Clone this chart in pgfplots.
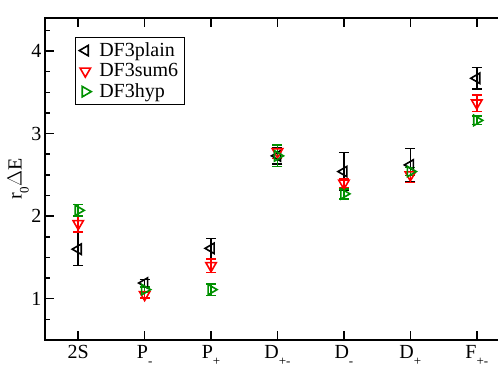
\documentclass[border=0pt]{standalone}
\usepackage{pgfplots}
\pgfplotsset{compat=1.18}
\usepackage{fontspec}
\setmainfont{Liberation Serif}
\definecolor{dgreen}{RGB}{0,145,0}
\newcommand{\sub}[1]{\raisebox{-7bp}{\fontsize{13bp}{13bp}\selectfont #1}}
\begin{document}
\begin{tikzpicture}
\useasboundingbox (-45bp,-45bp) rectangle (453bp,340bp);
\clip (-45bp,-45bp) rectangle (453bp,340bp);
\begin{axis}[
  at={(0,0)}, anchor=south west,
  scale only axis, width=465bp, height=322bp,
  xmin=-0.5, xmax=6.5, ymin=0.5, ymax=4.4,
  xtick={0,...,6},
  xticklabels={2S, P\sub{-}, P\sub{+}, D\sub{+-}, D\sub{-}, D\sub{+}, F\sub{+-}},
  ytick={1,2,3,4},
  minor ytick={0.75,1.25,1.5,1.75,2.25,2.5,2.75,3.25,3.5,3.75,4.25},
  tick align=inside,
  major tick length=9bp, minor tick length=5bp,
  every tick/.style={black, line width=1.5bp},
  axis line style={line width=1.5bp},
  tick label style={font=\fontsize{20bp}{24bp}\selectfont},
  /pgf/number format/assume math mode=true,
  xticklabel style={yshift=-2bp},
  ylabel={r\sub{0}$\Delta$E},
  ylabel style={font=\fontsize{20bp}{24bp}\selectfont, yshift=-4bp},
  legend style={at={(29.7bp,302.7bp)}, anchor=north west, draw=black, line width=1.2bp,
    font=\fontsize{20bp}{22bp}\selectfont, inner xsep=4bp, inner ysep=3bp, row sep=1.5bp,
    /tikz/every odd column/.append style={column sep=6bp}},
  legend cell align=left,
  error bars/error bar style={line width=1.5bp},
  error bars/error mark options={rotate=90, mark size=5bp, line width=1.5bp},
]
\addplot[black, only marks, mark=triangle, mark size=6bp, mark options={rotate=90, line width=1.6bp},
  error bars/.cd, y dir=both, y explicit] coordinates {
  (0,1.60) +- (0,0.20)
  (1,1.19) +- (0,0.04)
  (2,1.61) +- (0,0.12)
  (3,2.73) +- (0,0.10)
  (4,2.54) +- (0,0.23)
  (5,2.62) +- (0,0.20)
  (6,3.67) +- (0,0.13)
};
\addplot[red, only marks, mark=triangle, mark size=6bp, mark options={rotate=180, line width=1.6bp},
  error bars/.cd, y dir=both, y explicit] coordinates {
  (0,1.91) +- (0,0.10)
  (1,1.05) +- (0,0.04)
  (2,1.40) +- (0,0.08)
  (3,2.78) +- (0,0.08)
  (4,2.40) +- (0,0.05)
  (5,2.50) +- (0,0.09)
  (6,3.37) +- (0,0.10)
};
\addplot[dgreen, only marks, mark=triangle, mark size=6bp, mark options={rotate=-90, line width=1.6bp},
  error bars/.cd, y dir=both, y explicit] coordinates {
  (0,2.07) +- (0,0.07)
  (1,1.11) +- (0,0.03)
  (2,1.11) +- (0,0.07)
  (3,2.73) +- (0,0.13)
  (4,2.27) +- (0,0.06)
  (5,2.54) +- (0,0.05)
  (6,3.16) +- (0,0.05)
};
\legend{DF3plain, DF3sum6, DF3hyp}
\end{axis}
\end{tikzpicture}
\end{document}
